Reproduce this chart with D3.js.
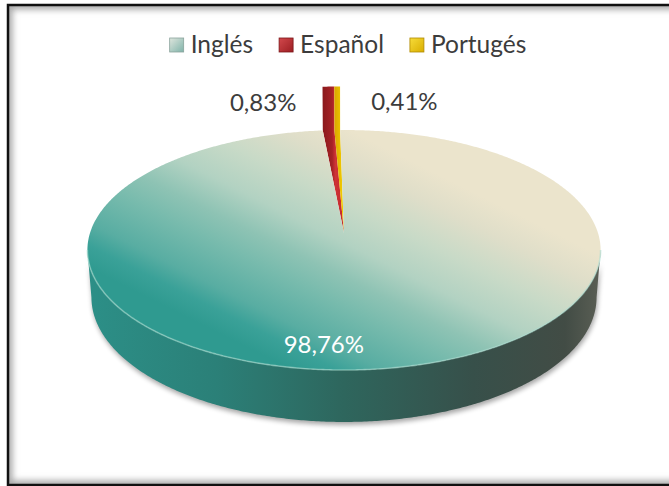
<!DOCTYPE html>
<html>
<head>
<meta charset="utf-8">
<script src="https://cdn.jsdelivr.net/npm/d3@7"></script>
<style>
  html, body { margin: 0; padding: 0; background: #fff; }
  svg { display: block; font-family: Lato, "Open Sans", sans-serif; }
</style>
</head>
<body>
<svg id="chart" width="669" height="486"></svg>
<script>
// Share of content by language
const categories = ["Inglés", "Español", "Portugés"];
const values = [98.76, 0.83, 0.41];

const W = 669, H = 486;
const svg = d3.select("#chart");
const defs = svg.append("defs");

// ---- perspective projection of a flat cylinder (unit radius) ----
const cx = 344, cy = 233;          // screen position of the disc centre
const K = 254;                     // screen scale
const D = 6.25;                    // camera distance (in radii)
const sinA = 0.463, cosA = Math.sqrt(1 - sinA * sinA);
const thick = 0.211;               // cylinder height (in radii)

function proj(r, a, y) {
  const x = r * Math.sin(a), z = -r * Math.cos(a);
  const yv = y * cosA - z * sinA;
  const zv = y * sinA + z * cosA;
  const s = D / (D - zv);
  return [cx + K * x * s, cy - K * yv * s];
}
const deg = Math.PI / 180;
function arcPts(a0, a1, r, y) {
  const n = Math.max(2, Math.ceil(Math.abs(a1 - a0) / (0.5 * deg)));
  return d3.range(n + 1).map(i => proj(r, a0 + (a1 - a0) * i / n, y));
}
const line = d3.line();

// ---- pie layout ----
const pie = d3.pie().sort(null).value(d => d)
  .startAngle(-1 * deg).endAngle(359 * deg);
const arcs = pie(values);

const fmt = d3.formatLocale({ decimal: ",", thousands: ".", grouping: [3], currency: ["", "€"] }).format(".2f");

// ---- gradients & filters ----
function linGrad(id, x1, y1, x2, y2, stops, units) {
  const g = defs.append("linearGradient").attr("id", id)
    .attr("x1", x1).attr("y1", y1).attr("x2", x2).attr("y2", y2);
  if (units) g.attr("gradientUnits", units);
  stops.forEach(([o, c]) => g.append("stop").attr("offset", o).attr("stop-color", c));
}
// top face lit from the upper right
linGrad("topFace", -89.4, 178.8, 17.9, -35.8, [
  [0, "#2f9a90"], [0.083, "#3aa198"], [0.167, "#58ada2"], [0.333, "#78bbad"],
  [0.44, "#8ec3b4"], [0.57, "#b2d2c2"], [0.72, "#c8dac7"], [0.875, "#dfdec9"], [1, "#ebe4cc"]
], "userSpaceOnUse");
linGrad("sideFace", 88, 0, 601, 0, [
  [0, "#2c8f87"], [0.25, "#2b8078"], [0.5, "#2e665d"], [0.75, "#37504a"], [0.93, "#424c45"], [1, "#5b5f55"]
], "userSpaceOnUse");
linGrad("redGrad", 0, 0, 1, 0, [
  [0, "#8a191c"], [0.45, "#a62226"], [0.6, "#cf3236"], [1, "#c02a2e"]
]);
linGrad("yelGrad", 0, 0, 1, 0, [
  [0, "#d8a600"], [1, "#f6d200"]
]);
linGrad("lgInglés", 0, 0, 1, 1, [[0, "#dfe6de"], [1, "#7fb3a9"]]);
linGrad("lgEspañol", 0, 0, 1, 1, [[0, "#d2484c"], [1, "#9c1e22"]]);
linGrad("lgPortugés", 0, 0, 1, 1, [[0, "#f7dc3a"], [1, "#d9ae00"]]);

const blur = defs.append("filter").attr("id", "blur")
  .attr("x", "-10%").attr("y", "-10%").attr("width", "120%").attr("height", "130%");
blur.append("feGaussianBlur").attr("stdDeviation", 2.5);
const blur2 = defs.append("filter").attr("id", "blur2")
  .attr("x", "-5%").attr("y", "-5%").attr("width", "110%").attr("height", "110%");
blur2.append("feGaussianBlur").attr("stdDeviation", 3);

// ---- chart area frame with inner shadow ----
const fx = 8, fy = 5, fw = 700, fh = 480;
defs.append("clipPath").attr("id", "inner")
  .append("rect").attr("x", fx).attr("y", fy).attr("width", fw).attr("height", fh);
svg.append("rect").attr("x", fx).attr("y", fy).attr("width", fw).attr("height", fh).attr("fill", "#fff");
svg.append("g").attr("clip-path", "url(#inner)")
  .append("rect").attr("x", fx).attr("y", fy).attr("width", fw).attr("height", fh)
  .attr("fill", "none").attr("stroke", "#a8a8a8").attr("stroke-width", 9)
  .attr("filter", "url(#blur2)");
svg.append("rect").attr("x", fx).attr("y", fy).attr("width", fw).attr("height", fh)
  .attr("fill", "none").attr("stroke", "#111").attr("stroke-width", 2.5);

// ---- pie ----
const g = svg.append("g");
const sideA0 = 98.15 * deg, sideA1 = 261.85 * deg;

// soft drop shadow under the cylinder side
const sidePts = arcPts(sideA0, sideA1, 1, 0).concat(arcPts(sideA1, sideA0, 1, -thick));
g.append("path").attr("d", line(sidePts) + "Z")
  .attr("transform", "translate(1,3)")
  .attr("fill", "#000").attr("opacity", 0.35).attr("filter", "url(#blur)");

// small slices (sit in the notch at the back of the main slice)
const smallFill = ["url(#redGrad)", "url(#yelGrad)"];
arcs.slice(1).forEach((d, i) => {
  const C = proj(0, 0, 0);
  const pts = [C, proj(1, d.startAngle, 0)]
    .concat(arcPts(d.startAngle, d.endAngle, 1, thick))
    .concat([proj(1, d.endAngle, 0)]);
  g.append("path").attr("d", line(pts) + "Z").attr("fill", smallFill[i]);
});

// main slice: side wall
const main = arcs[0];
g.append("path").attr("d", line(sidePts) + "Z").attr("fill", "url(#sideFace)");

// main slice: top face
const topPts = [proj(0, 0, 0)].concat(arcPts(main.startAngle, main.endAngle, 1, 0));
g.append("path").attr("d", line(topPts) + "Z").attr("fill", "url(#topFace)");

// bevel highlight along the front rim
g.append("path").attr("d", line(arcPts(sideA0, sideA1, 1, 0)))
  .attr("fill", "none").attr("stroke", "#a9dccf").attr("stroke-opacity", 0.55).attr("stroke-width", 1.6);

// ---- data labels ----
const fontSize = 24;
const mainMid = (main.startAngle + main.endAngle) / 2;
const mp = proj(0.85, mainMid, 0);
g.append("text").attr("x", mp[0] - 34).attr("y", mp[1] + 7)
  .attr("text-anchor", "middle").attr("font-size", fontSize).attr("fill", "#fff")
  .text(fmt(values[0]) + "%");

arcs.slice(1).forEach((d, i) => {
  const p = proj(1, (d.startAngle + d.endAngle) / 2, thick);
  const left = i === 0;
  g.append("text")
    .attr("x", left ? p[0] - 32 : p[0] + 34)
    .attr("y", p[1] + 24)
    .attr("text-anchor", left ? "end" : "start")
    .attr("font-size", fontSize).attr("fill", "#3c3c3c")
    .text(fmt(values[i + 1]) + "%");
});

// ---- legend ----
const legend = svg.append("g");
const markerFill = categories.map(c => `url(#lg${c})`);
const markerStroke = ["#8aa39c", "#7a1518", "#b08a00"];
const markerGap = 21, itemGap = 26;
let lx = 0;
categories.forEach((c, i) => {
  const it = legend.append("g");
  it.append("rect").attr("x", 0).attr("y", -15).attr("width", 14).attr("height", 14)
    .attr("fill", markerFill[i]).attr("stroke", markerStroke[i]).attr("stroke-width", 0.8);
  const t = it.append("text").attr("x", markerGap).attr("y", 0)
    .attr("font-size", 24.5).attr("fill", "#3c3c3c").text(c);
  const w = markerGap + t.node().getComputedTextLength();
  it.attr("transform", `translate(${lx},0)`);
  lx += w + itemGap;
});
const totalW = lx - itemGap;
legend.attr("transform", `translate(${348 - totalW / 2},53)`);
</script>
</body>
</html>
